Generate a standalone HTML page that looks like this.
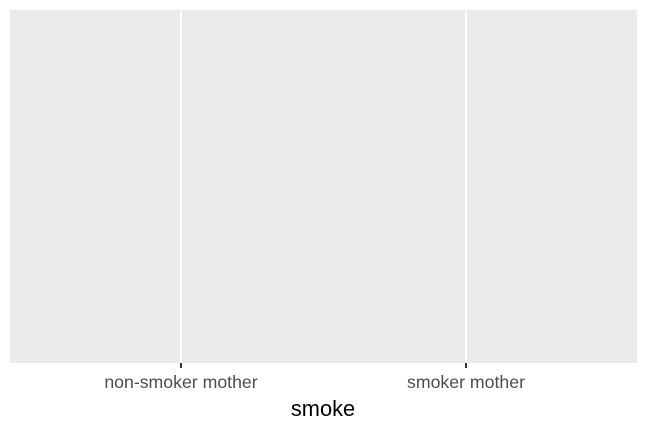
<!DOCTYPE html>
<html><head><meta charset="utf-8"><style>
html,body{margin:0;padding:0;background:#fff;}
svg{display:block;font-family:"Liberation Sans",Arial,sans-serif;}
</style></head><body>
<svg id="chart" width="648" height="432">
<rect x="10" y="10" width="627" height="353" fill="#ebebeb"/>
<g id="grid"></g>
<g id="xaxis"></g>
<text x="323" y="416" text-anchor="middle" font-size="21.8" fill="#000">smoke</text>
</svg>
<script>
const categories = ["non-smoker mother", "smoker mother"];
const panelLeft = 10, panelRight = 637, panelTop = 10, panelBottom = 363;
function xScale(i){
  const lo = 1 - 0.6, hi = categories.length + 0.6;
  return panelLeft + (i + 1 - lo) / (hi - lo) * (panelRight - panelLeft);
}
const ns = "http://www.w3.org/2000/svg";
const grid = document.getElementById("grid");
const xaxis = document.getElementById("xaxis");
categories.forEach((c, i) => {
  const x = xScale(i);
  const gl = document.createElementNS(ns, "line");
  gl.setAttribute("x1", x); gl.setAttribute("x2", x);
  gl.setAttribute("y1", panelTop); gl.setAttribute("y2", panelBottom);
  gl.setAttribute("stroke", "#fff"); gl.setAttribute("stroke-width", "2");
  
  
  grid.appendChild(gl);
  const tk = document.createElementNS(ns, "line");
  tk.setAttribute("x1", x); tk.setAttribute("x2", x);
  tk.setAttribute("y1", panelBottom); tk.setAttribute("y2", panelBottom + 5);
  tk.setAttribute("stroke", "#333"); tk.setAttribute("stroke-width", "2");
  
  
  xaxis.appendChild(tk);
  const t = document.createElementNS(ns, "text");
  t.setAttribute("x", x); t.setAttribute("y", panelBottom + 25);
  t.setAttribute("text-anchor", "middle");
  t.setAttribute("font-size", "17.7");
  t.setAttribute("fill", "#4d4d4d");
  t.textContent = c;
  
  
  xaxis.appendChild(t);
});
</script>
</body></html>
